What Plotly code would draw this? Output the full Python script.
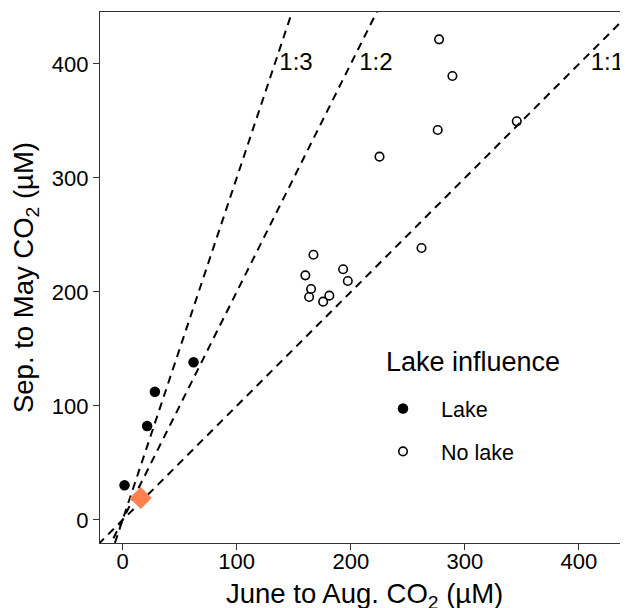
import plotly.graph_objects as go

# ---- data ----
lake_x = [1.7, 21.5, 28.3, 62.2]
lake_y = [30.4, 82.5, 112.5, 138.3]

nolake_x = [277.4, 289.1, 276.2, 225.2, 345.5, 262.0, 167.3, 193.3, 160.2, 197.4, 165.2, 163.5, 181.2, 175.8]
nolake_y = [421.6, 389.5, 342.1, 318.7, 349.7, 238.6, 232.7, 219.9, 214.6, 209.6, 202.6, 195.6, 196.8, 191.5]

ref_x = [15.9]
ref_y = [19.3]

ratios = [1, 2, 3]
ratio_labels = ["1:1", "1:2", "1:3"]
ratio_label_x = [425, 222, 152]
ratio_label_y = [400, 400, 400]
line_extent = [-30, 460]

x_range = [-19.8, 443]
y_range = [-20.2, 445.6]
tick_vals = [0, 100, 200, 300, 400]

FONT = "Liberation Sans, Arial, Helvetica, sans-serif"

# the page body adds an 8px margin, so the figure is 8px smaller than the window
W, H = 620, 600
ML, MT, MB, MR = 92, 4, 65, 0
PW, PH = W - ML - MR, H - MT - MB   # plot area 528 x 531


def px_x(p):  # window pixel -> paper fraction
    return (p - 8 - ML) / PW


def px_y(p):
    return (H - MB - (p - 8)) / PH


fig = go.Figure()

for r in ratios:
    fig.add_trace(go.Scatter(
        x=line_extent, y=[r * v for v in line_extent], mode="lines",
        line=dict(color="black", width=2, dash="8px,6px"),
        showlegend=False, hoverinfo="skip", cliponaxis=True))

fig.add_trace(go.Scatter(
    x=lake_x, y=lake_y, mode="markers", name="Lake", legendgroup="a",
    marker=dict(symbol="circle", size=10.5, color="black")))
fig.add_trace(go.Scatter(
    x=nolake_x, y=nolake_y, mode="markers", name="No lake", legendgroup="b",
    marker=dict(symbol="circle-open", size=8.5, color="black", line=dict(width=1.6))))
fig.add_trace(go.Scatter(
    x=ref_x, y=ref_y, mode="markers", showlegend=False,
    marker=dict(symbol="diamond", size=17, color="#FF7F50")))

fig.add_trace(go.Scatter(
    x=ratio_label_x, y=ratio_label_y, mode="text", text=ratio_labels,
    textfont=dict(family=FONT, size=24, color="black"),
    showlegend=False, hoverinfo="skip"))

axis_common = dict(
    showgrid=False, zeroline=False, showline=True, linecolor="#333333", linewidth=1.2,
    ticks="outside", ticklen=6, tickwidth=1.2, tickcolor="#333333", automargin=False,
    tickvals=tick_vals, tickfont=dict(family=FONT, size=22, color="black"),
)

fig.update_layout(
    width=W, height=H,
    margin=dict(l=ML, r=MR, t=MT, b=MB, autoexpand=False),
    paper_bgcolor="white", plot_bgcolor="white",
    font=dict(family=FONT, color="black"),
    xaxis=dict(range=x_range, mirror=True, ticklabelstandoff=-8, **axis_common),
    yaxis=dict(range=y_range, mirror=False,
               title=dict(text="Sep. to May CO<sub>2</sub> (µM)", font=dict(size=27.5), standoff=12),
               **axis_common),
    legend=dict(
        font=dict(size=21.5), x=px_x(365), xanchor="left",
        y=px_y(388), yanchor="top", itemwidth=66,
        bgcolor="rgba(0,0,0,0)", traceorder="grouped", tracegroupgap=12),
    annotations=[
        dict(text="Lake influence", xref="paper", yref="paper",
             x=px_x(384), y=px_y(362), xanchor="left", yanchor="middle",
             showarrow=False, font=dict(family=FONT, size=27, color="black")),
        dict(text="June to Aug. CO<sub>2</sub> (µM)", xref="paper", yref="paper",
             x=px_x(364), y=px_y(595), xanchor="center", yanchor="middle",
             showarrow=False, font=dict(family=FONT, size=27.5, color="black")),
    ],
    showlegend=True,
)

fig.write_html("out.html")
